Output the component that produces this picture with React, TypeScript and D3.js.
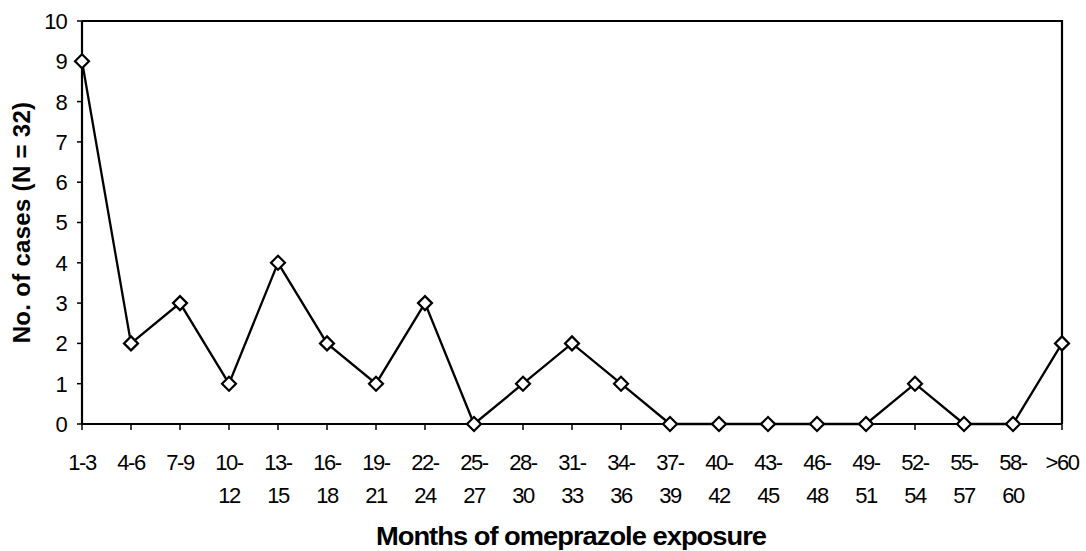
import React from 'react'
import * as d3 from 'd3'

// categories (line 1 / line 2 of the tick label)
const categories = [
  '1-3', '4-6', '7-9', '10-12', '13-15', '16-18', '19-21', '22-24', '25-27', '28-30', '31-33',
  '34-36', '37-39', '40-42', '43-45', '46-48', '49-51', '52-54', '55-57', '58-60', '>60'
]
const tickLines = [
  ['1-3'], ['4-6'], ['7-9'], ['10-', '12'], ['13-', '15'], ['16-', '18'], ['19-', '21'], ['22-', '24'],
  ['25-', '27'], ['28-', '30'], ['31-', '33'], ['34-', '36'], ['37-', '39'], ['40-', '42'], ['43-', '45'],
  ['46-', '48'], ['49-', '51'], ['52-', '54'], ['55-', '57'], ['58-', '60'], ['>60']
]
const cases = [9, 2, 3, 1, 4, 2, 1, 3, 0, 1, 2, 1, 0, 0, 0, 0, 0, 1, 0, 0, 2]
const yTicks = [0, 1, 2, 3, 4, 5, 6, 7, 8, 9, 10]

const W = 1086
const H = 551
const margin = { top: 21, right: 24, bottom: 127, left: 82 }
const font = '"Liberation Sans", Arial, sans-serif'

const App = () => {
  const x = d3
    .scalePoint<string>()
    .domain(categories)
    .range([margin.left, W - margin.right])
    .padding(0)
  const y = d3
    .scaleLinear()
    .domain([0, 10])
    .range([H - margin.bottom, margin.top])

  const line = d3
    .line<number>()
    .x((_, i) => x(categories[i]) as number)
    .y((d) => y(d))

  const diamond = d3.symbol().type(d3.symbolDiamond2).size(125)()

  const x0 = margin.left
  const x1 = W - margin.right
  const yb = y(0)
  const yt = y(10)

  return (
    <svg width={W} height={H} style={{ position: 'absolute', left: 0, top: 0, background: '#fff' }}>
      <rect x={0} y={0} width={W} height={H} fill="#fff" />
      {/* plot frame */}
      <path d={`M${x0},${yt}H${x1}V${yb}`} fill="none" stroke="#000" strokeWidth={2.2} />
      {/* y axis */}
      <line x1={x0} x2={x0} y1={yt} y2={yb} stroke="#000" strokeWidth={2.2} />
      {yTicks.map((t) => (
        <g key={t}>
          <line x1={x0 - 5} x2={x0} y1={y(t)} y2={y(t)} stroke="#000" strokeWidth={1.5} />
          <text
            x={x0 - 15}
            y={y(t)}
            dy="0.36em"
            textAnchor="end"
            fontFamily={font}
            fontSize={22}
            letterSpacing={-0.8}
          >
            {t}
          </text>
        </g>
      ))}
      {/* x axis */}
      <line x1={x0} x2={x1} y1={yb} y2={yb} stroke="#000" strokeWidth={2.2} />
      {categories.map((c, i) => (
        <g key={c}>
          <line x1={x(c)} x2={x(c)} y1={yb} y2={yb + 6} stroke="#000" strokeWidth={1.5} />
          {tickLines[i].map((s, j) => (
            <text
              key={j}
              x={x(c)}
              y={470 + j * 33}
              textAnchor="middle"
              fontFamily={font}
              fontSize={22}
              letterSpacing={-1.5}
            >
              {s}
            </text>
          ))}
        </g>
      ))}
      {/* series */}
      <path d={line(cases) || ''} fill="none" stroke="#000" strokeWidth={2.3} />
      {cases.map((v, i) => (
        <path
          key={i}
          d={diamond || ''}
          transform={`translate(${x(categories[i])},${y(v)})`}
          fill="#fff"
          stroke="#000"
          strokeWidth={2.2}
        />
      ))}
      {/* axis titles */}
      <text
        x={571}
        y={545}
        textAnchor="middle"
        fontFamily={font}
        fontSize={25}
        fontWeight="bold"
        letterSpacing={-0.9}
        textLength={390}
        lengthAdjust="spacingAndGlyphs"
      >
        Months of omeprazole exposure
      </text>
      <text
        transform={`translate(30,${(yt + yb) / 2}) rotate(-90)`}
        textAnchor="middle"
        fontFamily={font}
        fontSize={24}
        fontWeight="bold"
        letterSpacing={0.3}
      >
        No. of cases (N = 32)
      </text>
    </svg>
  )
}

export default App
